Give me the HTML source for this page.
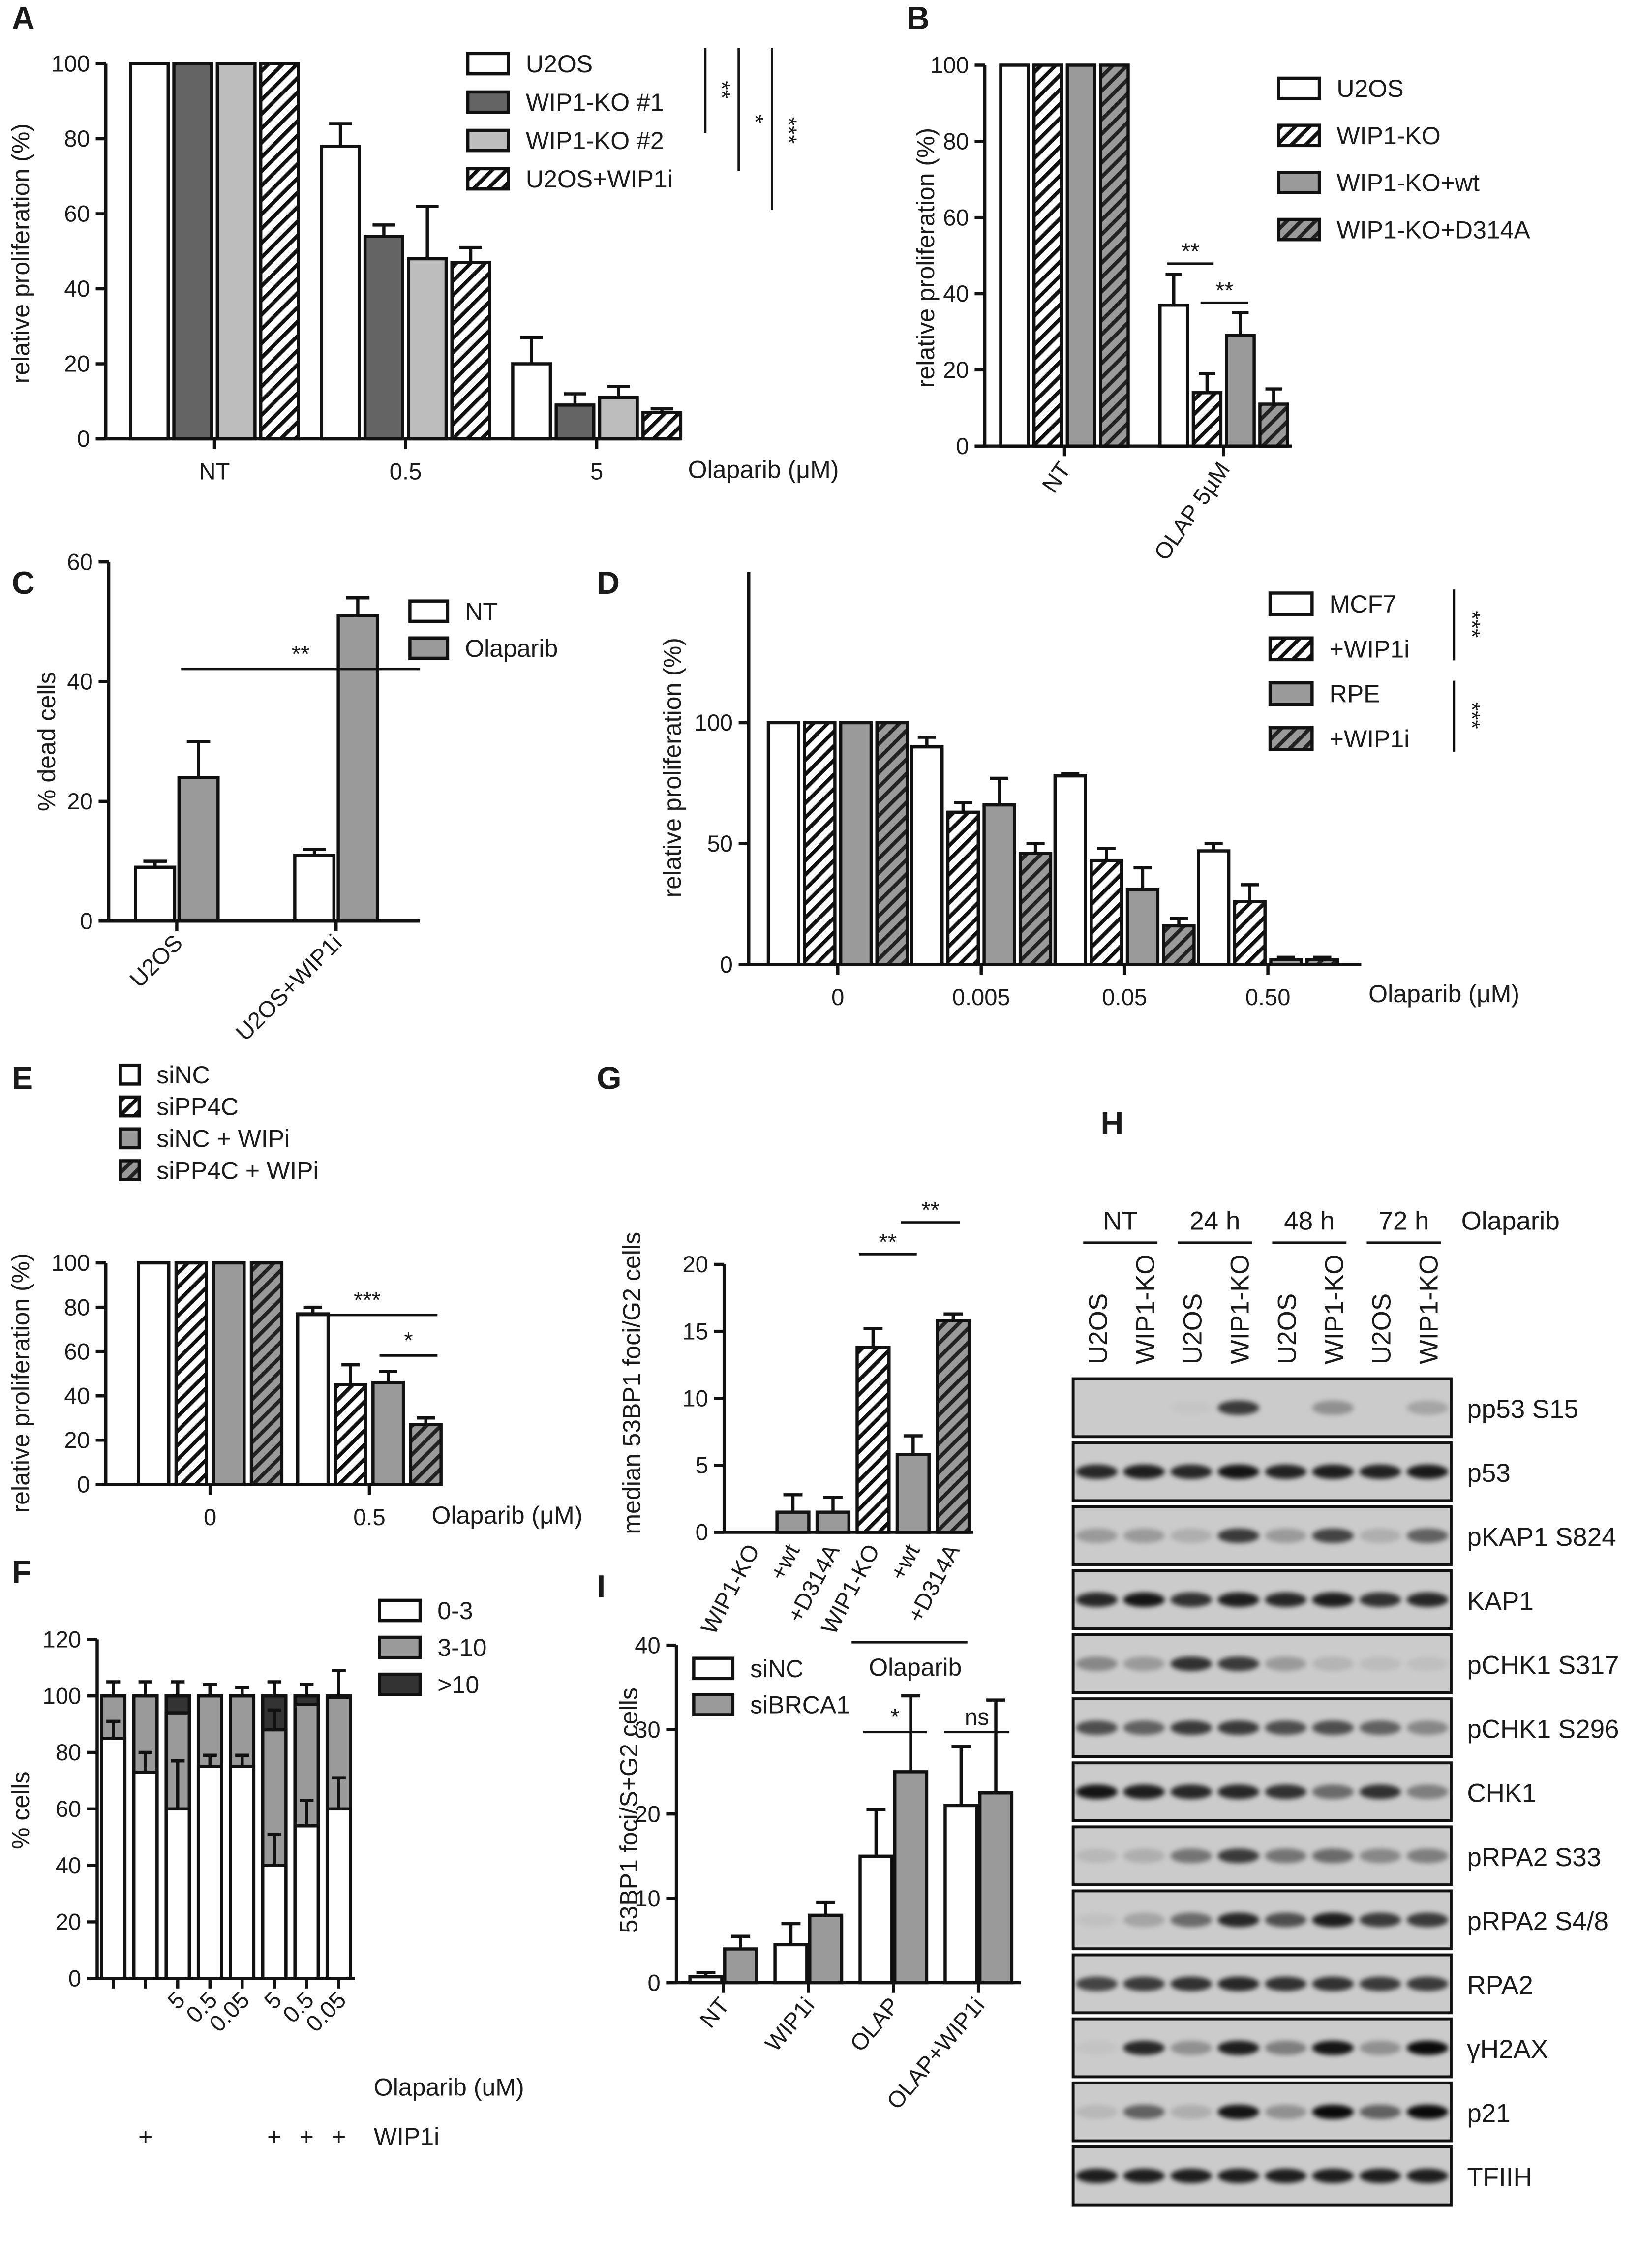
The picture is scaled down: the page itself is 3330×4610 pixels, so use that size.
<!DOCTYPE html>
<html><head><meta charset="utf-8">
<style>
html,body{margin:0;padding:0;background:#fff}
svg{display:block}
text{font-family:"Liberation Sans",sans-serif;fill:#1a1a1a}
</style></head>
<body>
<svg id="fig" width="3330" height="4610" viewBox="0 0 1131 1566" xmlns="http://www.w3.org/2000/svg">
<defs>
<pattern id="hw" patternUnits="userSpaceOnUse" width="7" height="7" patternTransform="rotate(45)"><rect width="7" height="7" fill="#fff"/><rect width="2.6" height="7" fill="#111"/></pattern>
<pattern id="hg" patternUnits="userSpaceOnUse" width="7" height="7" patternTransform="rotate(45)"><rect width="7" height="7" fill="#9a9a9a"/><rect width="2.6" height="7" fill="#222"/></pattern>
<filter id="blur" x="-50%" y="-100%" width="200%" height="300%"><feGaussianBlur stdDeviation="1.6"/></filter>
</defs>
</svg>
<script>
// ---------- DATA ----------
const A_categories=['NT','0.5','5'];
const A_u2os=[100,78,20];const A_u2os_err=[0,6,7];
const A_ko1=[100,54,9];const A_ko1_err=[0,3,3];
const A_ko2=[100,48,11];const A_ko2_err=[0,14,3];
const A_wip1i=[100,47,7];const A_wip1i_err=[0,4,1];
const A_ticks=[0,20,40,60,80,100];

const B_categories=['NT','OLAP 5µM'];
const B_u2os=[100,37];const B_u2os_err=[0,8];
const B_ko=[100,14];const B_ko_err=[0,5];
const B_wt=[100,29];const B_wt_err=[0,6];
const B_d314a=[100,11];const B_d314a_err=[0,4];
const B_ticks=[0,20,40,60,80,100];

const C_categories=['U2OS','U2OS+WIP1i'];
const C_nt=[9,11];const C_nt_err=[1,1];
const C_olap=[24,51];const C_olap_err=[6,3];
const C_ticks=[0,20,40,60];

const D_categories=['0','0.005','0.05','0.50'];
const D_mcf7=[100,90,78,47];const D_mcf7_err=[0,4,1,3];
const D_mcf7w=[100,63,43,26];const D_mcf7w_err=[0,4,5,7];
const D_rpe=[100,66,31,2];const D_rpe_err=[0,11,9,1];
const D_rpew=[100,46,16,2];const D_rpew_err=[0,4,3,1];
const D_ticks=[0,50,100];

const E_categories=['0','0.5'];
const E_sinc=[100,77];const E_sinc_err=[0,3];
const E_sipp4c=[100,45];const E_sipp4c_err=[0,9];
const E_sincw=[100,46];const E_sincw_err=[0,5];
const E_sipp4cw=[100,27];const E_sipp4cw_err=[0,3];
const E_ticks=[0,20,40,60,80,100];

const F_olap_labels=['','','5','0.5','0.05','5','0.5','0.05'];
const F_wip1i_labels=['','+','','','','+','+','+'];
const F_low=[85,73,60,75,75,40,54,60];const F_low_err=[6,7,17,4,4,11,9,11];
const F_mid=[15,27,34,25,25,48,43,39.5];const F_mid_err=[0,0,0,0,0,7,0,0];
const F_high=[0,0,6,0,0,12,3,0.5];const F_total_err=[5,5,5,4,3,5,4,9];
const F_ticks=[0,20,40,60,80,100,120];

const G_categories=['WIP1-KO','+wt','+D314A','WIP1-KO','+wt','+D314A'];
const G_values=[0,1.5,1.5,13.8,5.8,15.8];
const G_err=[0,1.3,1.1,1.4,1.4,0.5];
const G_ticks=[0,5,10,15,20];

const I_categories=['NT','WIP1i','OLAP','OLAP+WIP1i'];
const I_sinc=[0.7,4.5,15,21];const I_sinc_err=[0.5,2.5,5.5,7];
const I_sibrca1=[4,8,25,22.5];const I_sibrca1_err=[1.5,1.5,9,11];
const I_ticks=[0,10,20,30,40];

const H_lanes=['U2OS','WIP1-KO','U2OS','WIP1-KO','U2OS','WIP1-KO','U2OS','WIP1-KO'];
const H_times=['NT','24 h','48 h','72 h'];
const H_rows=['pp53 S15','p53','pKAP1 S824','KAP1','pCHK1 S317','pCHK1 S296','CHK1','pRPA2 S33','pRPA2 S4/8','RPA2','γH2AX','p21','TFIIH'];
const H_pp53=[0,0,0.03,0.75,0,0.3,0,0.2];
const H_p53=[0.85,0.9,0.85,0.95,0.88,0.9,0.88,0.92];
const H_pkap1=[0.25,0.25,0.15,0.75,0.25,0.7,0.15,0.55];
const H_kap1=[0.85,0.95,0.8,0.9,0.85,0.9,0.8,0.85];
const H_pchk1a=[0.35,0.25,0.8,0.75,0.25,0.12,0.08,0.06];
const H_pchk1b=[0.65,0.55,0.75,0.75,0.65,0.65,0.55,0.35];
const H_chk1=[0.95,0.9,0.85,0.85,0.8,0.5,0.8,0.4];
const H_prpa33=[0.1,0.15,0.45,0.75,0.45,0.5,0.35,0.4];
const H_prpa48=[0.05,0.2,0.5,0.85,0.65,0.9,0.75,0.75];
const H_rpa2=[0.7,0.75,0.8,0.85,0.8,0.8,0.75,0.75];
const H_gh2ax=[0.04,0.85,0.3,0.9,0.4,0.95,0.3,1];
const H_p21=[0.1,0.55,0.15,0.95,0.3,1,0.55,1];
const H_tfiih=[0.9,0.9,0.9,0.9,0.9,0.9,0.9,0.9];
const H_intensity=[H_pp53,H_p53,H_pkap1,H_kap1,H_pchk1a,H_pchk1b,H_chk1,H_prpa33,H_prpa48,H_rpa2,H_gh2ax,H_p21,H_tfiih];

// ---------- HELPERS ----------
const NS='http://www.w3.org/2000/svg';
const svg=document.getElementById('fig');
function mk(tag,attrs,parent){const e=document.createElementNS(NS,tag);for(const k in attrs)e.setAttribute(k,attrs[k]);(parent||svg).appendChild(e);return e;}
function txt(parent,x,y,s,size,extra){const e=mk('text',Object.assign({x:x,y:y,'font-size':size||16},extra||{}),parent);e.textContent=s;return e;}
const SW=2.2;

function makeChart(p){
  const g=mk('g',{});
  
  
  p.g=g;
  p.y=v=>p.y0-(v-0)*(p.y0-p.yr)/p.vr;
  const ya=mk('line',{x1:p.ax,y1:p.y0,x2:p.ax,y2:p.yTop,stroke:'#111','stroke-width':SW},g);
  
  
  const xa=mk('line',{x1:p.ax-7,y1:p.y0,x2:p.xEnd,y2:p.y0,stroke:'#111','stroke-width':SW},g);
  
  
  p.ticks.forEach(t=>{
    const yy=p.y(t);
    const tk=mk('line',{x1:p.ax-7,y1:yy,x2:p.ax,y2:yy,stroke:'#111','stroke-width':SW},g);
    
    
    const tl=txt(g,p.ax-11,yy+5.5,String(t),16,{'text-anchor':'end'});
    
    
  });
  const at=txt(g,0,0,p.ytitle,17,{'text-anchor':'middle',transform:`translate(${p.tx},${p.ty}) rotate(-90)`});
  
  
  const L=txt(g,p.lx,p.ly,p.letter,22,{'font-weight':'bold'});
  
  
  return p;
}
function center(p,i,n){const band=(p.c1-p.c0)/n;return p.c0+band*(i+0.5);}
function bar(p,x,w,v,fill,name){
  const top=p.y(v);
  const r=mk('rect',{x:x,y:top,width:w,height:Math.max(0,p.y0-top),fill:fill,stroke:'#111','stroke-width':SW},p.g);
  
  
  return r;
}
function errbar(p,xc,w,v,e){
  if(!e)return;
  const y1=p.y(v),y2=p.y(v+e);
  const l=mk('path',{d:`M${xc},${y1}V${y2}M${xc-w*0.3},${y2}H${xc+w*0.3}`,stroke:'#111','stroke-width':SW,fill:'none'},p.g);
  
  
}
function groupBars(p,cats,series){
  const ns=series.length,tot=ns*p.bw+(ns-1)*p.gap;
  cats.forEach((c,i)=>{
    const cx=center(p,i,cats.length);
    series.forEach((s,j)=>{
      const x=cx-tot/2+j*(p.bw+p.gap);
      bar(p,x,p.bw,s.vals[i],s.fill,'bar-'+s.key+'-'+i);
      errbar(p,x+p.bw/2,p.bw,s.vals[i],s.errs[i]);
    });
    const tk=mk('line',{x1:cx,y1:p.y0,x2:cx,y2:p.y0+7,stroke:'#111','stroke-width':SW},p.g);
    
    
    let lab;
    if(p.rot){lab=txt(p.g,0,0,c,16,{'text-anchor':'end',transform:`translate(${cx+5},${p.y0+16}) rotate(${p.rot})`});}
    else lab=txt(p.g,cx,p.y0+28,c,16,{'text-anchor':'middle'});
    
    
  });
}
function legend(parent,x,y,dy,w,h,items,size){
  items.forEach((it,i)=>{
    const r=mk('rect',{x:x,y:y+i*dy-h/2,width:w,height:h,fill:it[1],stroke:'#111','stroke-width':SW},parent);
    
    
    const t=txt(parent,x+w+12,y+i*dy+6,it[0],size||17);
    
    
  });
}
function sig(parent,x1,x2,y,label,ty){
  const l=mk('line',{x1:x1,y1:y,x2:x2,y2:y,stroke:'#111','stroke-width':1.6},parent);
  
  
  const t=txt(parent,(x1+x2)/2,y-(ty||5),label,16,{'text-anchor':'middle'});
  
  
}
function vsig(parent,x,y1,y2,label,lx,ly){
  const l=mk('line',{x1:x,y1:y1,x2:x,y2:y2,stroke:'#111','stroke-width':1.6},parent);
  
  
  const t=txt(parent,0,0,label,16,{'text-anchor':'middle',transform:`translate(${lx},${ly}) rotate(90)`});
  
  
}
const WH='#fff',DK='#646464',LG='#bdbdbd',GR='#9a9a9a',HW='url(#hw)',HG='url(#hg)';

// ---------- PANEL A ----------
const pA=makeChart({name:'panel-a-chart',ax:73,y0:303,yr:44,vr:100,yTop:44,xEnd:470,c0:82,c1:478,bw:26,gap:4,ticks:A_ticks,ytitle:'relative proliferation (%)',tx:20,ty:175,letter:'A',lx:8,ly:20});
groupBars(pA,A_categories,[
 {key:'u2os',vals:A_u2os,errs:A_u2os_err,fill:WH},
 {key:'wip1-ko1',vals:A_ko1,errs:A_ko1_err,fill:DK},
 {key:'wip1-ko2',vals:A_ko2,errs:A_ko2_err,fill:LG},
 {key:'u2os-wip1i',vals:A_wip1i,errs:A_wip1i_err,fill:HW}]);
legend(pA.g,323,44,26.5,28,14,[['U2OS',WH],['WIP1-KO #1',DK],['WIP1-KO #2',LG],['U2OS+WIP1i',HW]]);
vsig(pA.g,487,33,92,'**',493,62);
vsig(pA.g,510,33,118,'*',516,82);
vsig(pA.g,533,33,145,'***',539,90);
(function(){const t=txt(pA.g,475,330,'Olaparib (μM)',17);})();

// ---------- PANEL B ----------
const pB=makeChart({name:'panel-b-chart',ax:680,y0:308,yr:45,vr:100,yTop:45,xEnd:892,c0:680,c1:900,bw:19,gap:4,ticks:B_ticks,ytitle:'relative proliferation (%)',tx:645,ty:178,letter:'B',lx:626,ly:20,rot:-55});
groupBars(pB,B_categories,[
 {key:'u2os',vals:B_u2os,errs:B_u2os_err,fill:WH},
 {key:'wip1-ko',vals:B_ko,errs:B_ko_err,fill:HW},
 {key:'wip1-ko-wt',vals:B_wt,errs:B_wt_err,fill:GR},
 {key:'wip1-ko-d314a',vals:B_d314a,errs:B_d314a_err,fill:HG}]);
legend(pB.g,883,61,32.5,28,14,[['U2OS',WH],['WIP1-KO',HW],['WIP1-KO+wt',GR],['WIP1-KO+D314A',HG]]);
sig(pB.g,806,838,182,'**',3);
sig(pB.g,829,862,209,'**',3);

// ---------- PANEL C ----------
const pC=makeChart({name:'panel-c-chart',ax:75,y0:636,yr:388,vr:60,yTop:388,xEnd:290,c0:67,c1:287,bw:27,gap:3,ticks:C_ticks,ytitle:'% dead cells',tx:38,ty:512,letter:'C',lx:8,ly:410,rot:-45});
groupBars(pC,C_categories,[
 {key:'nt',vals:C_nt,errs:C_nt_err,fill:WH},
 {key:'olaparib',vals:C_olap,errs:C_olap_err,fill:GR}]);
legend(pC.g,283,422,25.5,26,14,[['NT',WH],['Olaparib',GR]]);
sig(pC.g,125,290,462,'**',5);

// ---------- PANEL D ----------
const pD=makeChart({name:'panel-d-chart',ax:517,y0:666,yr:499,vr:100,yTop:395,xEnd:940,c0:529,c1:925,bw:21,gap:4,ticks:D_ticks,ytitle:'relative proliferation (%)',tx:470,ty:530,letter:'D',lx:412,ly:410});
groupBars(pD,D_categories,[
 {key:'mcf7',vals:D_mcf7,errs:D_mcf7_err,fill:WH},
 {key:'mcf7-wip1i',vals:D_mcf7w,errs:D_mcf7w_err,fill:HW},
 {key:'rpe',vals:D_rpe,errs:D_rpe_err,fill:GR},
 {key:'rpe-wip1i',vals:D_rpew,errs:D_rpew_err,fill:HG}]);
legend(pD.g,877,417,31,29,15,[['MCF7',WH],['+WIP1i',HW],['RPE',GR],['+WIP1i',HG]]);
vsig(pD.g,1004,407,456,'***',1011,431);
vsig(pD.g,1004,470,519,'***',1011,494);
(function(){const t=txt(pD.g,945,692,'Olaparib (μM)',17);})();

// ---------- PANEL E ----------
const pE=makeChart({name:'panel-e-chart',ax:73,y0:1025,yr:872,vr:100,yTop:872,xEnd:302,c0:90,c1:310,bw:21,gap:5,ticks:E_ticks,ytitle:'relative proliferation (%)',tx:20,ty:955,letter:'E',lx:8,ly:752});
groupBars(pE,E_categories,[
 {key:'sinc',vals:E_sinc,errs:E_sinc_err,fill:WH},
 {key:'sipp4c',vals:E_sipp4c,errs:E_sipp4c_err,fill:HW},
 {key:'sinc-wipi',vals:E_sincw,errs:E_sincw_err,fill:GR},
 {key:'sipp4c-wipi',vals:E_sipp4cw,errs:E_sipp4cw_err,fill:HG}]);
legend(pE.g,83,742,22,13,13,[['siNC',WH],['siPP4C',HW],['siNC + WIPi',GR],['siPP4C + WIPi',HG]]);
sig(pE.g,205,302,908,'***',5);
sig(pE.g,262,302,936,'*',5);
(function(){const t=txt(pE.g,298,1052,'Olaparib (μM)',17);})();

// ---------- PANEL F ----------
const pF=makeChart({name:'panel-f-chart',ax:67,y0:1366,yr:1132,vr:120,yTop:1132,xEnd:245,c0:67,c1:245,bw:16,gap:0,ticks:F_ticks,ytitle:'% cells',tx:20,ty:1250,letter:'F',lx:8,ly:1093});
F_low.forEach((v,i)=>{
  const cx=center(pF,i,F_low.length),x=cx-pF.bw/2;
  bar(pF,x,pF.bw,v+F_mid[i]+F_high[i],'#333','bar-gt10-'+i);
  bar(pF,x,pF.bw,v+F_mid[i],GR,'bar-3to10-'+i);
  bar(pF,x,pF.bw,v,WH,'bar-0to3-'+i);
  errbar(pF,cx,pF.bw,v,F_low_err[i]);
  errbar(pF,cx,pF.bw,v+F_mid[i],F_mid_err[i]);
  errbar(pF,cx,pF.bw,v+F_mid[i]+F_high[i],F_total_err[i]);
  const tk=mk('line',{x1:cx,y1:pF.y0,x2:cx,y2:pF.y0+7,stroke:'#111','stroke-width':SW},pF.g);
  
  
  if(F_olap_labels[i]){const t=txt(pF.g,0,0,F_olap_labels[i],16,{'text-anchor':'end',transform:`translate(${cx+6},${pF.y0+16}) rotate(-45)`});}
  if(F_wip1i_labels[i]){const t=txt(pF.g,cx,1481,F_wip1i_labels[i],17,{'text-anchor':'middle'});}
});
legend(pF.g,262,1112,25.5,28,14,[['0-3',WH],['3-10',GR],['>10','#333']]);
(function(){let t=txt(pF.g,258,1447,'Olaparib (uM)',17);
t=txt(pF.g,258,1481,'WIP1i',17);})();

// ---------- PANEL G ----------
const pG=makeChart({name:'panel-g-chart',ax:500,y0:1058,yr:873,vr:20,yTop:873,xEnd:672,c0:506,c1:672,bw:22,gap:0,ticks:G_ticks,ytitle:'median 53BP1 foci/G2 cells',tx:442,ty:955,letter:'G',lx:412,ly:752,rot:-62});
const G_fills=[WH,GR,GR,HW,GR,HG];
G_values.forEach((v,i)=>{
  const cx=center(pG,i,G_values.length);
  bar(pG,cx-pG.bw/2,pG.bw,v,G_fills[i],'bar-g-'+i);
  errbar(pG,cx,pG.bw,v,G_err[i]);
  const t=txt(pG.g,0,0,G_categories[i],16,{'text-anchor':'end',transform:`translate(${cx+5},${pG.y0+12}) rotate(-62)`});
  
  
});
sig(pG.g,593,633,866,'**',3);
sig(pG.g,622,663,844,'**',3);
(function(){const l=mk('line',{x1:588,y1:1134,x2:668,y2:1134,stroke:'#111','stroke-width':1.6},pG.g);
const t=txt(pG.g,632,1157,'Olaparib',17,{'text-anchor':'middle'});})();

// ---------- PANEL I ----------
const pI=makeChart({name:'panel-i-chart',ax:467,y0:1369,yr:1136,vr:40,yTop:1136,xEnd:705,c0:470,c1:705,bw:22,gap:2,ticks:I_ticks,ytitle:'53BP1 foci/S+G2 cells',tx:440,ty:1250,letter:'I',lx:412,ly:1103,rot:-50});
groupBars(pI,I_categories,[
 {key:'sinc',vals:I_sinc,errs:I_sinc_err,fill:WH},
 {key:'sibrca1',vals:I_sibrca1,errs:I_sibrca1_err,fill:GR}]);
legend(pI.g,479,1152,25,27,14,[['siNC',WH],['siBRCA1',GR]]);
sig(pI.g,596,640,1196,'*',5);
sig(pI.g,652,697,1196,'ns',5);

// ---------- PANEL H (blot) ----------
(function(){
 const g=mk('g',{});
 
 
 const L=txt(g,760,783,'H',22,{'font-weight':'bold'});
 
 
 const bx0=741,bx1=1002,lw=(bx1-bx0)/8;
 H_times.forEach((t,i)=>{
   const x0=bx0+7+i*2*lw,x1=bx0+i*2*lw+2*lw-7;
   const l=mk('line',{x1:x0,y1:858,x2:x1,y2:858,stroke:'#111','stroke-width':1.6},g);
   
   
   const tt=txt(g,(x0+x1)/2,849,t,18,{'text-anchor':'middle'});
   
   
 });
 const ol=txt(g,1009,849,'Olaparib',18);
 
 
 H_lanes.forEach((s,i)=>{
   const cx=bx0+lw*(i+0.5);
   const t=txt(g,0,0,s,18,{transform:`translate(${cx+7},${942}) rotate(-90)`});
   
   
 });
 H_rows.forEach((r,ri)=>{
   const top=952+ri*44.2,h=40;
   const box=mk('rect',{x:bx0,y:top,width:bx1-bx0,height:h,fill:'#cbcbcb',stroke:'#111','stroke-width':2},g);
   
   
   H_intensity[ri].forEach((v,li)=>{
     const cx=bx0+lw*(li+0.5);
     const e=mk('ellipse',{cx:cx,cy:top+h/2,rx:lw*0.44,ry:5,fill:'#000','fill-opacity':Math.min(1,v*0.95),filter:'url(#blur)'},g);
     
     
   });
   const t=txt(g,bx1+11,top+h/2+7,r,18);
   
   
 });
})();
</script>
</body></html>
